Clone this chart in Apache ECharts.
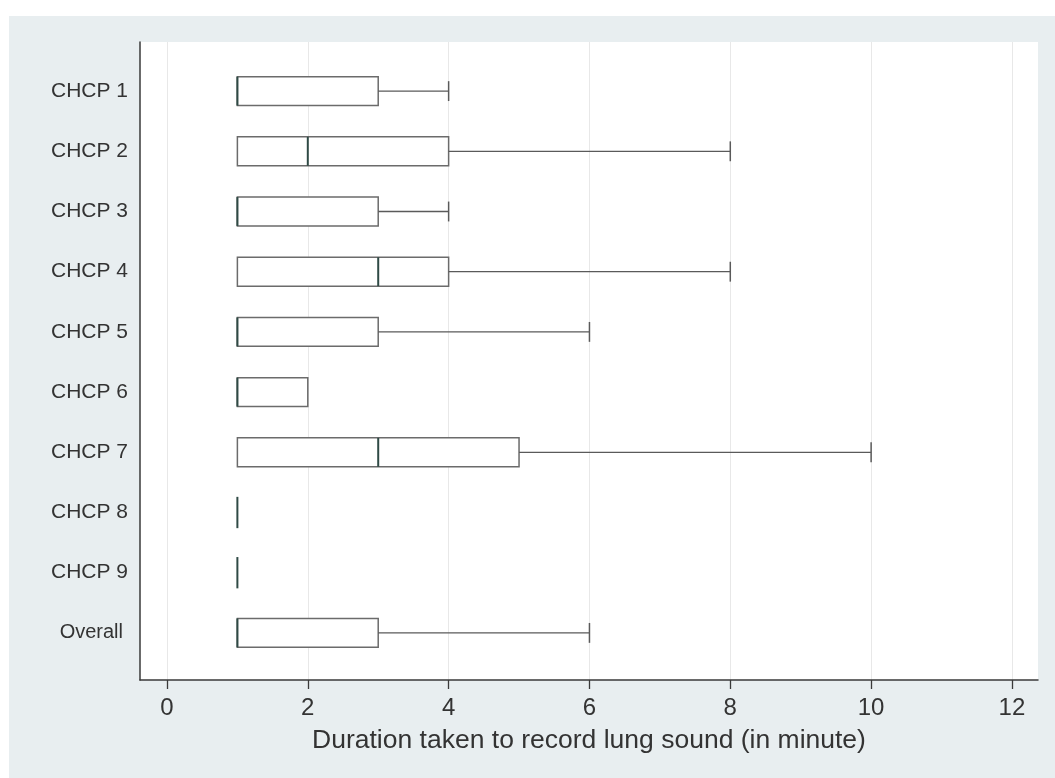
<!DOCTYPE html>
<html>
<head>
<meta charset="utf-8">
<script src="https://cdn.jsdelivr.net/npm/echarts@6/dist/echarts.min.js"></script>
<style>
  html, body { margin: 0; padding: 0; background: #ffffff; }
  #bg { position: absolute; left: 9px; top: 16px; right: 0; bottom: 0; background: #E8EEF0; }
  #chart { position: absolute; left: 0; top: 0; width: 1055px; height: 778px; }
</style>
</head>
<body>
<div id="bg"></div>
<div id="chart"></div>
<script>
const categories = ['CHCP 1','CHCP 2','CHCP 3','CHCP 4','CHCP 5','CHCP 6','CHCP 7','CHCP 8','CHCP 9','Overall'];
const mins    = [1, 1, 1, 1, 1, 1, 1, 1, 1, 1];
const q1s     = [1, 1, 1, 1, 1, 1, 1, 1, 1, 1];
const medians = [1, 2, 1, 3, 1, 1, 3, 1, 1, 1];
const q3s     = [3, 4, 3, 4, 3, 2, 5, 1, 1, 3];
const maxs    = [4, 8, 4, 8, 6, 2, 10, 1, 1, 6];
const xTicks  = [0, 2, 4, 6, 8, 10, 12];
const xTitle  = 'Duration taken to record lung sound (in minute)';

const xMin = -0.383, xMax = 12.37;
const data = categories.map((c, i) => [i, mins[i], q1s[i], medians[i], q3s[i], maxs[i]]);

const boxStroke = '#6b6b6b';
const medStroke = '#2f4a45';

function renderItem(params, api) {
  const y = api.value(0);
  const vMin = api.value(1), vQ1 = api.value(2), vMed = api.value(3), vQ3 = api.value(4), vMax = api.value(5);
  const band = api.size([0, 1])[1];
  const h = band * 0.48;
  const capH = band * 0.33;
  const pMin = api.coord([vMin, y]);
  const pQ1 = api.coord([vQ1, y]);
  const pMed = api.coord([vMed, y]);
  const pQ3 = api.coord([vQ3, y]);
  const pMax = api.coord([vMax, y]);
  const cy = pMed[1];
  const children = [];
  if (vQ3 > vQ1) {
    children.push({ type: 'rect', shape: { x: pQ1[0], y: cy - h / 2, width: pQ3[0] - pQ1[0], height: h },
      style: { fill: '#ffffff', stroke: boxStroke, lineWidth: 1.5 } });
  }
  if (vMax > vQ3) {
    children.push({ type: 'line', shape: { x1: pQ3[0], y1: cy, x2: pMax[0], y2: cy }, style: { stroke: '#5a5a5a', lineWidth: 1.3 } });
    children.push({ type: 'line', shape: { x1: pMax[0], y1: cy - capH / 2, x2: pMax[0], y2: cy + capH / 2 }, style: { stroke: '#5a5a5a', lineWidth: 1.5 } });
  }
  if (vQ1 > vMin) {
    children.push({ type: 'line', shape: { x1: pMin[0], y1: cy, x2: pQ1[0], y2: cy }, style: { stroke: '#5a5a5a', lineWidth: 1.3 } });
    children.push({ type: 'line', shape: { x1: pMin[0], y1: cy - capH / 2, x2: pMin[0], y2: cy + capH / 2 }, style: { stroke: '#5a5a5a', lineWidth: 1.5 } });
  }
  const mh = (vQ3 > vQ1) ? h : band * 0.52;
  children.push({ type: 'line', shape: { x1: pMed[0], y1: cy - mh / 2, x2: pMed[0], y2: cy + mh / 2 }, style: { stroke: medStroke, lineWidth: 2 } });
  return { type: 'group', children };
}

const chart = echarts.init(document.getElementById('chart'), null, { renderer: 'canvas' });
chart.setOption({
  backgroundColor: 'transparent',
  animation: false,
  grid: [
    { left: 140, right: 17, top: 61, height: 602, containLabel: false },
    { left: 140, right: 17, top: 42, bottom: 98, show: true, backgroundColor: '#ffffff', borderWidth: 0, z: 0 }
  ],
  xAxis: [
    { type: 'value', gridIndex: 0, min: xMin, max: xMax, show: false },
    {
      type: 'value', gridIndex: 1, min: xMin, max: xMax,
      axisLine: { show: true, onZero: false, lineStyle: { color: '#3a3a3a', width: 1.5 } },
      axisTick: { show: true, customValues: xTicks, length: 9, lineStyle: { color: '#3a3a3a', width: 1.3 } },
      axisLabel: { customValues: xTicks, fontSize: 24, color: '#333333', margin: 16, fontFamily: 'Liberation Sans' },
      splitLine: { show: true, lineStyle: { color: '#e8e8e8', width: 1 } },
      name: xTitle, nameLocation: 'middle', nameGap: 47,
      nameTextStyle: { fontSize: 26.5, color: '#333333', fontFamily: 'Liberation Sans' }
    }
  ],
  yAxis: [
    {
      type: 'category', gridIndex: 0, data: categories, inverse: true,
      axisLine: { show: false }, axisTick: { show: false },
      axisLabel: {
        fontSize: 21, color: '#333333', margin: 12, fontFamily: 'Liberation Sans',
        formatter: v => v === 'Overall' ? '{o|' + v + '}' : v,
        rich: { o: { fontSize: 20, color: '#333333', fontFamily: 'Liberation Sans', padding: [0, 5, 0, 0] } }
      },
      splitLine: { show: false }
    },
    {
      type: 'value', gridIndex: 1, min: 0, max: 1,
      axisLine: { show: true, onZero: false, lineStyle: { color: '#3a3a3a', width: 1.5 } },
      axisTick: { show: false }, axisLabel: { show: false }, splitLine: { show: false }
    }
  ],
  series: [
    {
      type: 'custom', xAxisIndex: 0, yAxisIndex: 0,
      renderItem: renderItem,
      encode: { x: [1, 2, 3, 4, 5], y: 0 },
      data: data, z: 5
    }
  ]
});
</script>
</body>
</html>
